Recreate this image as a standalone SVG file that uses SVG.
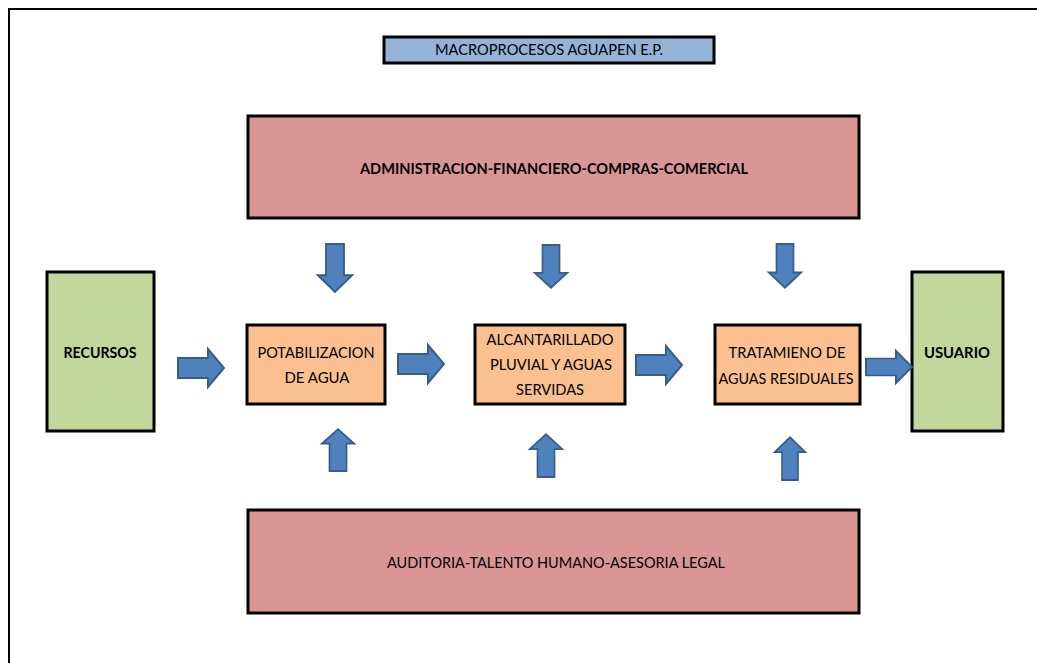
<svg xmlns="http://www.w3.org/2000/svg" width="1037" height="663" viewBox="0 0 1037 663">
<style>
.box{stroke:#000;stroke-width:3}
.red{fill:#D99694}
.blue{fill:#95B3D7}
.green{fill:#C3D69B}
.orange{fill:#FAC090}
.t{font-family:Lato,"Liberation Sans",sans-serif;font-size:15px;fill:#000;text-anchor:middle}
.b{font-weight:bold}
.arr{fill:#4F81BD;stroke:#385D8A;stroke-width:2;stroke-linejoin:miter}
</style>
<defs>
<path id="ar" d="M0,-10 H30 V-19 L46,0 L30,19 V10 H0 Z"/>
</defs>
<rect width="1037" height="663" fill="#fff"/>
<path d="M9,663 V9 H1037" fill="none" stroke="#000" stroke-width="2"/>

<g id="title">
<rect class="box blue" x="384" y="37" width="330" height="26"/>
<text class="t" x="549" y="55" textLength="228" lengthAdjust="spacingAndGlyphs">MACROPROCESOS AGUAPEN E.P.</text>
</g>
<g id="admin">
<rect class="box red" x="248" y="116" width="611" height="102"/>
<text class="t b" x="554" y="174" textLength="388" lengthAdjust="spacingAndGlyphs">ADMINISTRACION-FINANCIERO-COMPRAS-COMERCIAL</text>
</g>
<g id="auditoria">
<rect class="box red" x="248" y="510" width="611" height="103"/>
<text class="t" x="556" y="568" textLength="338" lengthAdjust="spacingAndGlyphs">AUDITORIA-TALENTO HUMANO-ASESORIA LEGAL</text>
</g>
<g id="recursos">
<rect class="box green" x="47" y="272" width="107" height="159"/>
<text class="t b" x="100" y="358" textLength="73" lengthAdjust="spacingAndGlyphs">RECURSOS</text>
</g>
<g id="usuario">
<rect class="box green" x="912" y="272" width="91" height="159"/>
<text class="t b" x="957" y="358" textLength="66" lengthAdjust="spacingAndGlyphs">USUARIO</text>
</g>
<g id="potabilizacion">
<rect class="box orange" x="247" y="325" width="138" height="79"/>
<text class="t" x="316" y="358" textLength="117" lengthAdjust="spacingAndGlyphs">POTABILIZACION</text>
<text class="t" x="317" y="383" textLength="65" lengthAdjust="spacingAndGlyphs">DE AGUA</text>
</g>
<g id="alcantarillado">
<rect class="box orange" x="475" y="325" width="150" height="79"/>
<text class="t" x="550" y="345" textLength="127" lengthAdjust="spacingAndGlyphs">ALCANTARILLADO</text>
<text class="t" x="551" y="370" textLength="122" lengthAdjust="spacingAndGlyphs">PLUVIAL Y AGUAS</text>
<text class="t" x="550" y="395" textLength="68" lengthAdjust="spacingAndGlyphs">SERVIDAS</text>
</g>
<g id="tratamiento">
<rect class="box orange" x="715" y="325" width="145" height="79"/>
<text class="t" x="787" y="358" textLength="117" lengthAdjust="spacingAndGlyphs">TRATAMIENO DE</text>
<text class="t" x="786" y="384" textLength="135" lengthAdjust="spacingAndGlyphs">AGUAS RESIDUALES</text>
</g>

<g id="connectors">
<use href="#ar" class="arr" transform="translate(178,368)"/>
<use href="#ar" class="arr" transform="translate(398,364)"/>
<use href="#ar" class="arr" transform="translate(636,365)"/>
<use href="#ar" class="arr" transform="translate(866,367) scale(1,0.85)"/>
<use href="#ar" class="arr" transform="translate(335,244) rotate(90) scale(1.04,0.9)"/>
<use href="#ar" class="arr" transform="translate(551,245) rotate(90) scale(0.93,0.85)"/>
<use href="#ar" class="arr" transform="translate(785,244) rotate(90) scale(0.95,0.85)"/>
<use href="#ar" class="arr" transform="translate(338,471) rotate(-90) scale(0.91,0.85)"/>
<use href="#ar" class="arr" transform="translate(546,477) rotate(-90) scale(0.93,0.85)"/>
<use href="#ar" class="arr" transform="translate(790,480) rotate(-90) scale(0.93,0.8)"/>
</g>
</svg>
